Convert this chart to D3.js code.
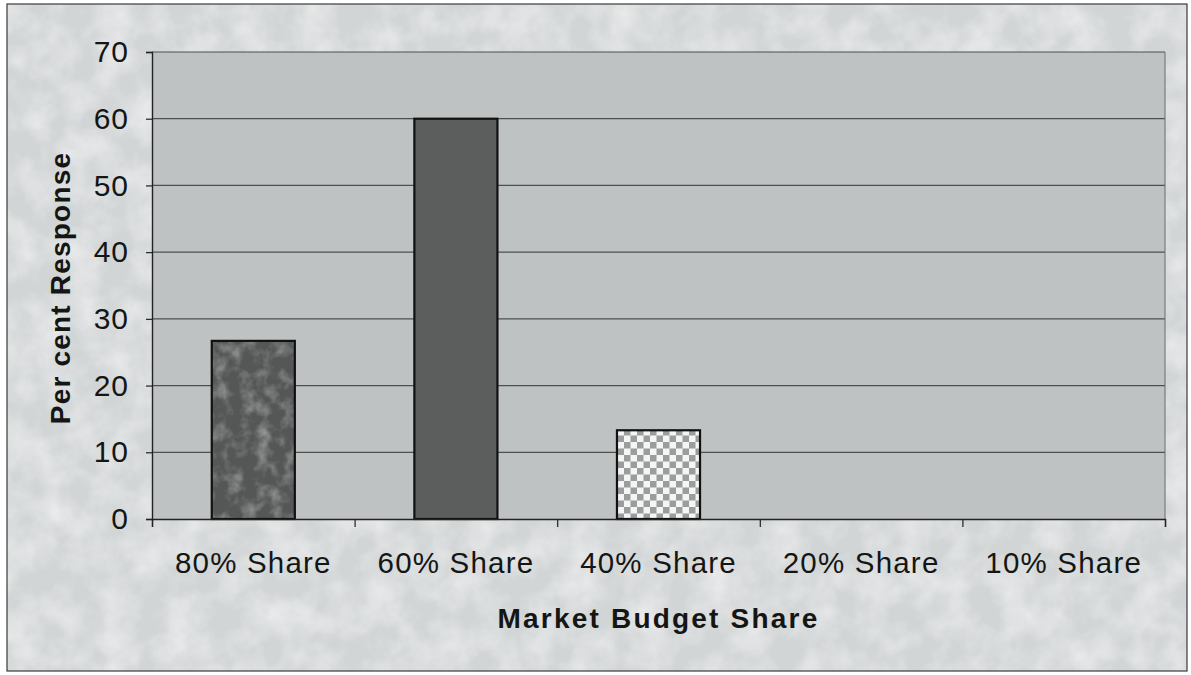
<!DOCTYPE html>
<html>
<head>
<meta charset="utf-8">
<script src="https://cdn.jsdelivr.net/npm/d3@7"></script>
<style>
  body { margin: 0; background: #fff; }
  svg { display: block; font-family: Arial, "Liberation Sans", sans-serif; }
</style>
</head>
<body>
<div id="app"></div>
<script>
(function (d3) {
  'use strict'

  // data
  const categories = ['80% Share', '60% Share', '40% Share', '20% Share', '10% Share']
  const values = [26.7, 60, 13.3, 0, 0]
  const yTicks = [0, 10, 20, 30, 40, 50, 60, 70]
  const fills = ['url(#mottle)', '#5b5e5c', 'url(#checker)', '#5b5e5c', '#5b5e5c']

  const w = 1191
  const h = 675
  const left = 152
  const right = 1165
  const top = 52
  const bottom = 519

  const svg = d3.select('#app').append('svg')
    .attr('width', w)
    .attr('height', h)

  const defs = svg.append('defs')
  // paper-like noise for the frame
  const noise = defs.append('filter').attr('id', 'noise')
    .attr('x', 0).attr('y', 0).attr('width', 1).attr('height', 1)
  noise.append('feTurbulence')
    .attr('type', 'fractalNoise')
    .attr('baseFrequency', 0.03)
    .attr('numOctaves', 4)
    .attr('seed', 4)
  noise.append('feColorMatrix')
    .attr('type', 'matrix')
    .attr('values', '0 0 0 0 1  0 0 0 0 1  0 0 0 0 1  0.9 0 0 0 -0.3')

  // dark mottled fill for first bar
  const mottle = defs.append('pattern').attr('id', 'mottle')
    .attr('patternUnits', 'userSpaceOnUse')
    .attr('width', 400).attr('height', 600)
  mottle.append('rect').attr('width', 400).attr('height', 600).attr('fill', '#545755')
  const mf = defs.append('filter').attr('id', 'mnoise')
    .attr('x', 0).attr('y', 0).attr('width', 1).attr('height', 1)
  mf.append('feTurbulence')
    .attr('type', 'fractalNoise')
    .attr('baseFrequency', 0.07)
    .attr('numOctaves', 3)
    .attr('seed', 9)
  mf.append('feColorMatrix')
    .attr('type', 'matrix')
    .attr('values', '0 0 0 0 0.72  0 0 0 0 0.75  0 0 0 0 0.74  0.9 0 0 0 -0.38')
  mottle.append('rect').attr('width', 400).attr('height', 600)
    .attr('filter', 'url(#mnoise)')

  // checker fill for third bar
  const cs = 6.5
  const checker = defs.append('pattern').attr('id', 'checker')
    .attr('patternUnits', 'userSpaceOnUse')
    .attr('width', cs * 2).attr('height', cs * 2)
  checker.append('rect').attr('width', cs * 2).attr('height', cs * 2).attr('fill', '#f4f6f6')
  checker.append('rect').attr('width', cs).attr('height', cs).attr('fill', '#9a9d9c')
  checker.append('rect').attr('x', cs).attr('y', cs).attr('width', cs).attr('height', cs).attr('fill', '#9a9d9c')

  // outer frame
  svg.append('rect')
    .attr('x', 7).attr('y', 4)
    .attr('width', 1180).attr('height', 667)
    .attr('fill', '#d2d5d6')
  svg.append('rect')
    .attr('x', 7).attr('y', 4)
    .attr('width', 1180).attr('height', 667)
    .attr('filter', 'url(#noise)')
  svg.append('rect')
    .attr('x', 7).attr('y', 4)
    .attr('width', 1180).attr('height', 667)
    .attr('fill', 'none')
    .attr('stroke', '#3a3a3a')
    .attr('stroke-width', 1.2)

  // scales
  const xScale = d3.scaleBand()
    .domain(categories)
    .range([left, right])
    .paddingInner(0.59)
    .paddingOuter(0.295)
  const xEdge = d3.scaleLinear()
    .domain([0, categories.length])
    .range([left, right])
  const yScale = d3.scaleLinear()
    .domain([0, 70])
    .range([bottom, top])

  // plot area
  svg.append('rect')
    .attr('x', left).attr('y', top)
    .attr('width', right - left).attr('height', bottom - top)
    .attr('fill', '#bfc2c2')

  // gridlines
  svg.append('g')
    .selectAll('line')
    .data(yTicks.filter(d => d > 0))
    .enter()
    .append('line')
    .attr('x1', left).attr('x2', right)
    .attr('y1', d => yScale(d)).attr('y2', d => yScale(d))
    .attr('stroke', '#4d504f')
    .attr('stroke-width', 1.2)

  svg.append('line')
    .attr('x1', right).attr('x2', right)
    .attr('y1', top).attr('y2', bottom)
    .attr('stroke', '#6a6d6c')
    .attr('stroke-width', 1)

  // bars
  svg.append('g')
    .selectAll('rect')
    .data(values.map((v, i) => ({ c: categories[i], v: v, f: fills[i] })).filter(d => d.v > 0))
    .enter()
    .append('rect')
    .attr('x', d => xScale(d.c))
    .attr('y', d => yScale(d.v))
    .attr('width', xScale.bandwidth())
    .attr('height', d => yScale(0) - yScale(d.v))
    .attr('fill', d => d.f)
    .attr('stroke', '#111')
    .attr('stroke-width', 2.2)

  // y axis
  const yAxis = d3.axisLeft(yScale)
    .tickValues(yTicks)
    .tickSize(6)
    .tickPadding(17)
  const gy = svg.append('g')
    .attr('transform', 'translate(' + left + ',0)')
    .call(yAxis)
  gy.select('.domain').attr('stroke', '#222').attr('stroke-width', 1.4)
  gy.selectAll('.tick line').attr('stroke', '#222').attr('stroke-width', 1.2)
  gy.selectAll('.tick text')
    .attr('fill', '#141614')
    .style('font-size', '30px')
    .style('letter-spacing', '1px')

  // x axis: edge ticks
  const xEdgeAxis = d3.axisBottom(xEdge)
    .tickValues(d3.range(categories.length + 1))
    .tickSize(8)
    .tickFormat('')
  const gx = svg.append('g')
    .attr('transform', 'translate(0,' + bottom + ')')
    .call(xEdgeAxis)
  gx.select('.domain').attr('stroke', '#222').attr('stroke-width', 1.4)
  gx.selectAll('.tick line').attr('stroke', '#222').attr('stroke-width', 1.2)

  // x axis labels
  const xAxis = d3.axisBottom(xScale).tickSize(0).tickPadding(33)
  const gxl = svg.append('g')
    .attr('transform', 'translate(0,' + bottom + ')')
    .call(xAxis)
  gxl.select('.domain').remove()
  gxl.selectAll('.tick text')
    .attr('fill', '#141614')
    .style('font-size', '29.5px')
    .style('letter-spacing', '1.2px')

  // axis titles
  svg.append('text')
    .attr('x', (left + right) / 2)
    .attr('y', 628)
    .attr('text-anchor', 'middle')
    .attr('fill', '#141614')
    .style('font-size', '28px')
    .style('font-weight', 'bold')
    .style('letter-spacing', '2.2px')
    .text('Market Budget Share')

  svg.append('text')
    .attr('transform', 'translate(70,288) rotate(-90)')
    .attr('text-anchor', 'middle')
    .attr('fill', '#141614')
    .style('font-size', '28px')
    .style('font-weight', 'bold')
    .style('letter-spacing', '1.2px')
    .text('Per cent Response')

}(d3))
</script>
</body>
</html>
